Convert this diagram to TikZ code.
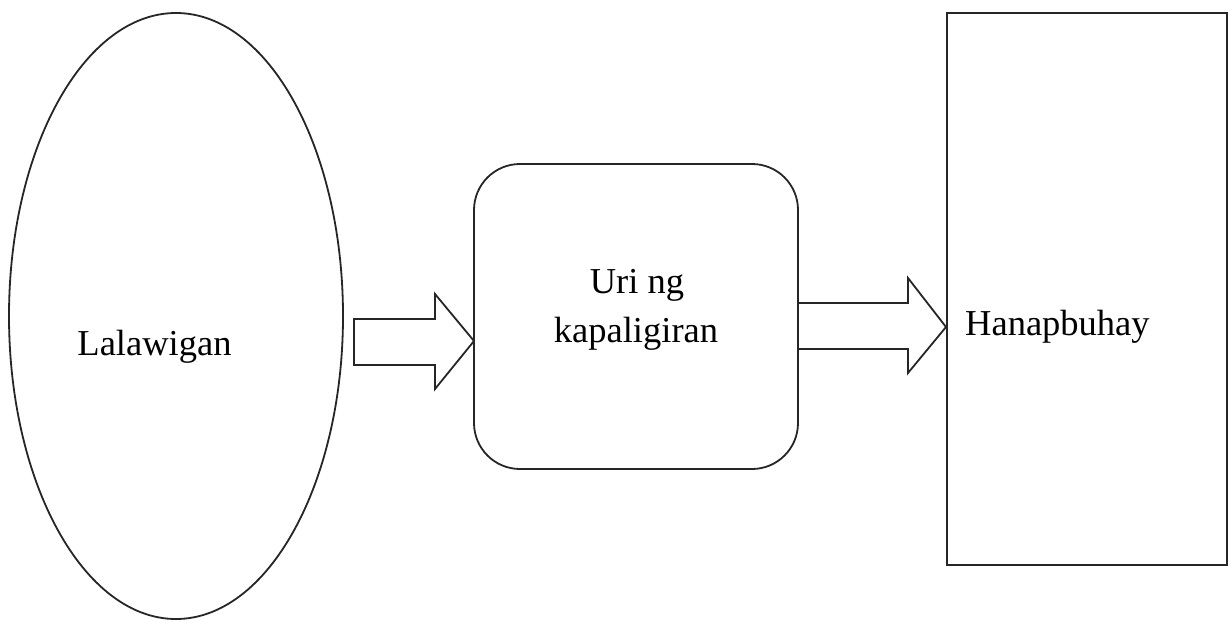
\documentclass[tikz,border=0pt]{standalone}
\usepackage{fontspec}
\setmainfont{Liberation Serif}
\begin{document}
\begin{tikzpicture}[x=1pt,y=-1pt,
  shapeline/.style={draw=black!85,line width=1.8pt},
  lbl/.style={font=\fontsize{36.5}{49}\selectfont,inner sep=0pt,anchor=base}]
\useasboundingbox (0,0) rectangle (1231,621);
% ellipse
\draw[shapeline] (176,316) ellipse [x radius=167, y radius=303];
\node[lbl] (lal) at (154.5,355) {Lalawigan};
% rounded rectangle
\draw[shapeline,rounded corners=46pt] (474,164) rectangle (798,469);
\node[lbl] (uri) at (637,293) {Uri ng};
\node[lbl] (kap) at (636,342) {kapaligiran};
% rectangle
\draw[shapeline,line width=2.2pt] (947,13) rectangle (1227,565);
\node[lbl,anchor=base west] (han) at (965,335) {Hanapbuhay};
% block arrow 1
\draw[shapeline,line join=miter] (354,319) -- (435,319) -- (435,294) -- (474,341) -- (435,389) -- (435,365) -- (354,365) -- cycle;
% block arrow 2
\draw[shapeline,line join=miter] (798,303) -- (908,303) -- (908,278) -- (946,327) -- (908,373) -- (908,349) -- (798,349);
\end{tikzpicture}
\end{document}
